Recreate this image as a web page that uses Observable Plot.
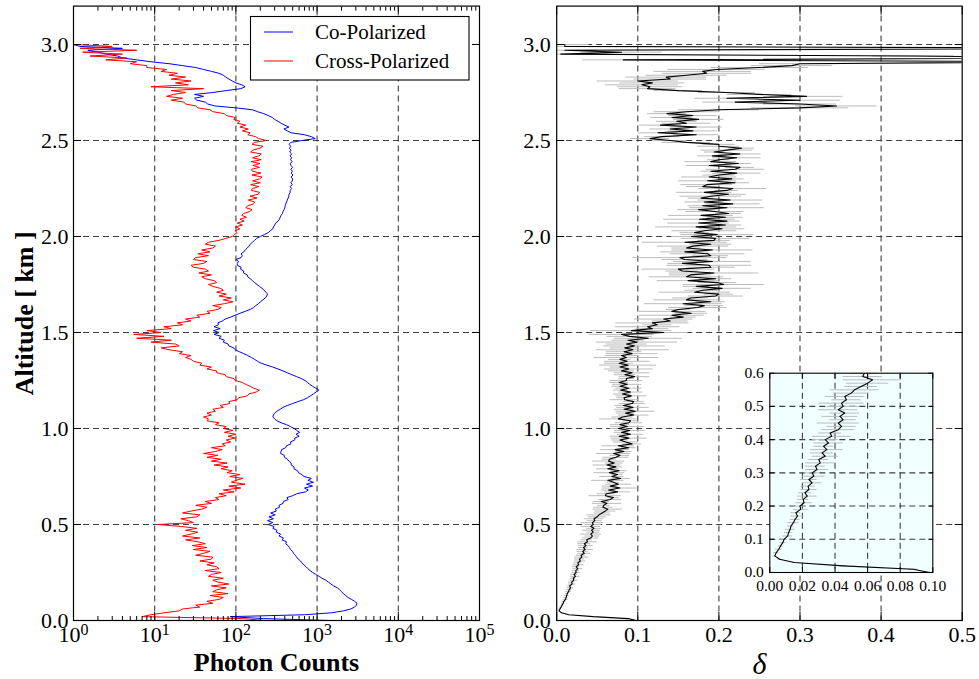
<!DOCTYPE html>
<html>
<head>
<meta charset="utf-8">
<script src="https://cdn.jsdelivr.net/npm/d3@7"></script>
<script src="https://cdn.jsdelivr.net/npm/@observablehq/plot@0.6"></script>
<style>
  body { margin: 0; background: #fff; }
  #fig { position: relative; width: 979px; height: 679px; overflow: hidden; background: #fff; }
  #fig svg { position: absolute; overflow: visible; }
</style>
</head>
<body>
<div id="fig"></div>
<script>
// Lidar profile, range bins every 10 m from the ground up to 3.0 km
const binKm = 0.01;

// Co-polarized photon counts per bin
const coCounts = [
  1400, 220, 85, 700, 1500, 2100, 2600, 2900, 3050, 3100,      // 0.0
  2900, 2650, 2400, 2250, 2100, 2000, 1900, 1780, 1600, 1480,  // 0.1
  1380, 1280, 1150, 1060, 960, 880, 820, 770, 730, 690,        // 0.2
  650, 625, 585, 560, 540, 510, 500, 470, 455, 440,            // 0.3
  410, 420, 370, 385, 340, 355, 315, 320, 285, 295,            // 0.4
  250, 285, 245, 290, 255, 305, 268, 315, 305, 345,            // 0.5
  340, 380, 385, 440, 425, 500, 560, 720, 780, 700,            // 0.6
  880, 740, 900, 770, 850, 690, 650, 590, 575, 520,            // 0.7
  520, 480, 480, 450, 430, 395, 395, 355, 360, 365,            // 0.8
  410, 420, 475, 470, 530, 530, 600, 550, 610, 560,            // 0.9
  520, 470, 420, 360, 320, 300, 285, 290, 300, 320,            // 1.0
  350, 380, 430, 500, 580, 680, 760, 830, 900, 970,            // 1.1
  1050, 960, 880, 810, 760, 710, 640, 560, 490, 430,           // 1.2
  380, 330, 285, 240, 205, 185, 170, 155, 140, 125,            // 1.3
  110, 98, 94, 82, 80, 70, 72, 62, 66, 54,                     // 1.4
  62, 53, 64, 54, 61, 60, 68, 74, 86, 98,                      // 1.5
  112, 130, 150, 165, 175, 190, 200, 215, 230, 240,            // 1.6
  245, 235, 222, 210, 195, 182, 170, 160, 150, 140,            // 1.7
  138, 124, 125, 114, 116, 104, 104, 108, 100, 116,            // 1.8
  120, 116, 125, 130, 138, 145, 150, 160, 170, 180,            // 1.9
  200, 225, 250, 265, 285, 290, 300, 310, 330, 345,            // 2.0
  350, 360, 375, 380, 392, 400, 405, 412, 420, 430,            // 2.1
  440, 448, 452, 466, 466, 486, 466, 496, 476, 496,            // 2.2
  500, 476, 506, 480, 496, 476, 500, 476, 466, 494,            // 2.3
  470, 486, 464, 486, 460, 476, 456, 476, 450, 474,            // 2.4
  650, 950, 850, 700, 480, 430, 390, 450, 400, 360,            // 2.5
  330, 300, 280, 250, 220, 185, 160, 100, 55, 45,              // 2.6
  42, 33, 31, 40, 31, 52, 76, 115, 130, 118,                   // 2.7
  100, 90, 82, 75, 70, 62, 50, 40, 32, 22,                     // 2.8
  15, 9, 6, 4, 3.5, 2.5, 2, 1.5, 4, 1.2,                       // 2.9
  1                                                            // 3.0
];

// Cross-polarized photon counts per bin
const crossCounts = [
  230, 120, 7, 9, 13, 20, 22, 36, 32, 52,            // 0.0
  44, 62, 70, 48, 80, 52, 58, 76, 50, 82,            // 0.1
  60, 52, 70, 46, 50, 66, 42, 62, 58, 44,            // 0.2
  54, 36, 50, 52, 32, 40, 48, 30, 44, 29,            // 0.3
  42, 34, 24, 36, 22, 28, 34, 24, 33, 21,            // 0.4
  11, 30, 26, 21, 33, 36, 22, 28, 38, 44,            // 0.5
  32, 50, 42, 62, 56, 76, 62, 95, 70, 115,           // 0.6
  82, 130, 88, 100, 122, 84, 112, 78, 90, 66,        // 0.7
  80, 54, 78, 50, 66, 44, 60, 40, 56, 68,            // 0.8
  50, 74, 68, 86, 76, 98, 80, 100, 72, 92,           // 0.9
  70, 76, 56, 62, 44, 46, 40, 50, 44, 56,            // 1.0
  52, 70, 64, 84, 82, 104, 108, 138, 145, 178,       // 1.1
  195, 165, 150, 132, 120, 98, 95, 76, 74, 58,       // 1.2
  58, 44, 50, 36, 38, 30, 28, 24, 28, 20,            // 1.3
  22, 15, 12, 20, 18, 9, 16, 6, 13, 5.5,             // 1.4
  12, 8, 16, 13, 22, 19, 28, 24, 36, 33,             // 1.5
  48, 44, 60, 66, 52, 72, 92, 70, 88, 62,            // 1.6
  76, 58, 70, 64, 52, 46, 58, 54, 42, 38,            // 1.7
  50, 35, 46, 42, 30, 28, 40, 44, 30, 32,            // 1.8
  46, 34, 48, 38, 52, 56, 42, 46, 62, 75,            // 1.9
  90, 95, 104, 98, 112, 100, 120, 104, 126, 112,     // 2.0
  135, 118, 124, 148, 158, 132, 140, 165, 170, 142,  // 2.1
  182, 150, 188, 196, 155, 160, 192, 152, 200, 160,  // 2.2
  196, 210, 158, 204, 160, 155, 195, 162, 198, 154,  // 2.3
  205, 160, 192, 206, 152, 162, 198, 215, 158, 170,  // 2.4
  235, 190, 175, 140, 150, 120, 142, 112, 132, 104,  // 2.5
  112, 94, 98, 76, 72, 52, 48, 34, 32, 24,           // 2.6
  23, 16, 22, 14, 17, 24, 16, 40, 9, 26,             // 2.7
  18, 28, 16, 24, 15, 19, 12, 14, 8, 8,              // 2.8
  5, 6, 2.5, 4.5, 1.6, 4, 1.3, 6, 1.2, 3,            // 2.9
  1                                                  // 3.0
];

// Volume depolarization ratio per bin
const delta = [
  0.098, 0.088, 0.045, 0.015, 0.006, 0.003, 0.004, 0.0055, 0.0066, 0.008,   // 0.0
  0.0088, 0.011, 0.0115, 0.0125, 0.013, 0.0145, 0.0155, 0.017, 0.016, 0.019, // 0.1
  0.0185, 0.021, 0.0205, 0.023, 0.0215, 0.024, 0.0235, 0.026, 0.024, 0.027,  // 0.2
  0.026, 0.029, 0.028, 0.031, 0.030, 0.034, 0.032, 0.035, 0.033, 0.036,      // 0.3
  0.034, 0.038, 0.037, 0.042, 0.044, 0.042, 0.045, 0.043, 0.046, 0.042,      // 0.4
  0.045, 0.044, 0.047, 0.046, 0.050, 0.052, 0.056, 0.060, 0.063, 0.057,      // 0.5
  0.058, 0.062, 0.055, 0.066, 0.070, 0.060, 0.061, 0.075, 0.064, 0.078,      // 0.6
  0.066, 0.076, 0.070, 0.063, 0.079, 0.068, 0.075, 0.065, 0.077, 0.063,      // 0.7
  0.073, 0.062, 0.071, 0.064, 0.065, 0.073, 0.078, 0.070, 0.083, 0.072,      // 0.8
  0.089, 0.076, 0.093, 0.085, 0.078, 0.089, 0.077, 0.091, 0.080, 0.090,      // 0.9
  0.076, 0.087, 0.078, 0.089, 0.091, 0.076, 0.081, 0.095, 0.085, 0.097,      // 1.0
  0.083, 0.094, 0.082, 0.093, 0.095, 0.084, 0.083, 0.092, 0.081, 0.091,      // 1.1
  0.079, 0.089, 0.078, 0.087, 0.077, 0.086, 0.086, 0.096, 0.084, 0.093,      // 1.2
  0.080, 0.089, 0.078, 0.088, 0.077, 0.087, 0.078, 0.086, 0.080, 0.093,      // 1.3
  0.083, 0.094, 0.084, 0.096, 0.086, 0.099, 0.088, 0.113, 0.090, 0.080,      // 1.4
  0.132, 0.092, 0.118, 0.112, 0.124, 0.118, 0.140, 0.132, 0.156, 0.142,      // 1.5
  0.166, 0.142, 0.150, 0.174, 0.182, 0.156, 0.190, 0.160, 0.165, 0.196,      // 1.6
  0.200, 0.170, 0.180, 0.204, 0.172, 0.206, 0.198, 0.162, 0.196, 0.160,      // 1.7
  0.165, 0.194, 0.155, 0.150, 0.190, 0.188, 0.155, 0.192, 0.158, 0.152,      // 1.8
  0.190, 0.186, 0.158, 0.192, 0.160, 0.168, 0.190, 0.158, 0.194, 0.196,      // 1.9
  0.166, 0.198, 0.170, 0.182, 0.204, 0.172, 0.208, 0.175, 0.210, 0.176,      // 2.0
  0.208, 0.178, 0.212, 0.195, 0.175, 0.210, 0.180, 0.217, 0.182, 0.214,      // 2.1
  0.178, 0.190, 0.212, 0.182, 0.210, 0.217, 0.180, 0.185, 0.220, 0.186,      // 2.2
  0.216, 0.188, 0.200, 0.222, 0.190, 0.220, 0.226, 0.188, 0.224, 0.190,      // 2.3
  0.200, 0.222, 0.192, 0.226, 0.194, 0.210, 0.228, 0.200, 0.200, 0.160,      // 2.4
  0.140, 0.115, 0.130, 0.172, 0.125, 0.168, 0.140, 0.172, 0.128, 0.160,      // 2.5
  0.148, 0.175, 0.142, 0.168, 0.136, 0.160, 0.200, 0.300, 0.345, 0.300,      // 2.6
  0.220, 0.300, 0.210, 0.308, 0.250, 0.210, 0.150, 0.112, 0.115, 0.105,      // 2.7
  0.118, 0.100, 0.140, 0.135, 0.160, 0.185, 0.180, 0.197, 0.250, 0.290,      // 2.8
  0.300, 0.650, 0.082, 0.700, 0.440, 0.005, 0.080, 0.010, 0.800, 0.010,      // 2.9
  0.010                                                                      // 3.0
];

// Uncertainty (half-width) of the depolarization ratio per bin
const deltaErr = [
  0.004, 0.003, 0.002, 0.001, 0.001, 0.001, 0.0015, 0.002, 0.0015, 0.002,   // 0.0
  0.002, 0.003, 0.0025, 0.003, 0.002, 0.0035, 0.003, 0.004, 0.003, 0.0045,  // 0.1
  0.004, 0.005, 0.0035, 0.006, 0.004, 0.005, 0.0045, 0.006, 0.005, 0.007,   // 0.2
  0.005, 0.007, 0.006, 0.009, 0.006, 0.008, 0.007, 0.010, 0.006, 0.009,     // 0.3
  0.008, 0.012, 0.007, 0.010, 0.009, 0.013, 0.008, 0.011, 0.009, 0.012,     // 0.4
  0.010, 0.014, 0.009, 0.012, 0.011, 0.015, 0.010, 0.013, 0.018, 0.012,     // 0.5
  0.008, 0.018, 0.010, 0.014, 0.007, 0.020, 0.011, 0.016, 0.009, 0.022,     // 0.6
  0.010, 0.016, 0.008, 0.020, 0.012, 0.015, 0.007, 0.019, 0.010, 0.014,     // 0.7
  0.008, 0.017, 0.011, 0.020, 0.009, 0.016, 0.012, 0.021, 0.010, 0.018,     // 0.8
  0.009, 0.020, 0.012, 0.015, 0.010, 0.022, 0.011, 0.016, 0.009, 0.019,     // 0.9
  0.010, 0.021, 0.012, 0.017, 0.009, 0.023, 0.013, 0.019, 0.011, 0.024,     // 1.0
  0.012, 0.020, 0.010, 0.016, 0.013, 0.018, 0.009, 0.019, 0.011, 0.015,     // 1.1
  0.009, 0.016, 0.010, 0.018, 0.012, 0.020, 0.010, 0.019, 0.013, 0.022,     // 1.2
  0.016, 0.030, 0.012, 0.035, 0.018, 0.028, 0.014, 0.040, 0.020, 0.032,     // 1.3
  0.022, 0.045, 0.018, 0.038, 0.025, 0.050, 0.020, 0.042, 0.028, 0.040,     // 1.4
  0.030, 0.050, 0.020, 0.040, 0.018, 0.045, 0.022, 0.036, 0.016, 0.040,     // 1.5
  0.020, 0.042, 0.015, 0.036, 0.024, 0.048, 0.018, 0.040, 0.022, 0.034,     // 1.6
  0.018, 0.044, 0.022, 0.036, 0.016, 0.050, 0.024, 0.038, 0.020, 0.046,     // 1.7
  0.026, 0.055, 0.020, 0.045, 0.030, 0.052, 0.018, 0.048, 0.028, 0.058,     // 1.8
  0.022, 0.046, 0.030, 0.050, 0.018, 0.044, 0.026, 0.052, 0.020, 0.042,     // 1.9
  0.024, 0.045, 0.018, 0.040, 0.028, 0.050, 0.020, 0.038, 0.016, 0.044,     // 2.0
  0.022, 0.040, 0.016, 0.036, 0.026, 0.046, 0.018, 0.034, 0.024, 0.040,     // 2.1
  0.016, 0.038, 0.022, 0.034, 0.014, 0.042, 0.020, 0.032, 0.018, 0.036,     // 2.2
  0.015, 0.034, 0.020, 0.030, 0.012, 0.036, 0.018, 0.028, 0.016, 0.032,     // 2.3
  0.014, 0.030, 0.018, 0.026, 0.012, 0.032, 0.016, 0.026, 0.020, 0.030,     // 2.4
  0.020, 0.024, 0.022, 0.028, 0.024, 0.030, 0.025, 0.032, 0.026, 0.030,     // 2.5
  0.025, 0.031, 0.026, 0.030, 0.024, 0.040, 0.050, 0.060, 0.050, 0.045,     // 2.6
  0.040, 0.050, 0.040, 0.045, 0.040, 0.035, 0.030, 0.035, 0.040, 0.045,     // 2.7
  0.040, 0.050, 0.045, 0.050, 0.050, 0.055, 0.060, 0.060, 0.060, 0.050,     // 2.8
  0.050, 0.060, 0.050, 0.060, 0.050, 0.040, 0.050, 0.040, 0.050, 0.040,     // 2.9
  0.030                                                                     // 3.0
];

// Axis ticks
const countDecades = [1, 10, 100, 1000, 10000, 100000];
const altitudeTicks = [0, 0.5, 1.0, 1.5, 2.0, 2.5, 3.0];
const deltaTicks = [0, 0.1, 0.2, 0.3, 0.4, 0.5];
const insetDeltaTicks = [0, 0.02, 0.04, 0.06, 0.08, 0.10];
const insetAltTicks = [0, 0.1, 0.2, 0.3, 0.4, 0.5, 0.6];

const rows = coCounts.map((c, i) => ({
  alt: i * binKm, co: c, cross: crossCounts[i], delta: delta[i], err: deltaErr[i]
}));
const lowRows = rows.filter(d => d.alt <= 0.6005);

const FONT = "'Liberation Serif', 'Times New Roman', serif";
const grid = {stroke: "#2a2a2a", strokeOpacity: 0.9, strokeWidth: 1.1, strokeDasharray: "6,4"};
const minorCounts = d3.scaleLog().domain([1, 1e5]).ticks().filter(v => !countDecades.includes(v));
const blank = () => "";
const errStroke = "#bcbcbc";

// Inward ticks on the top and right sides of a frame
function frameTicks(xt, yt, size) {
  return [
    Plot.axisX(xt, {anchor: "top", tickSize: -size, tickFormat: blank, label: null}),
    Plot.axisY(yt, {anchor: "right", tickSize: -size, tickFormat: blank, label: null})
  ];
}

const fig = document.getElementById("fig");

// ---- Left panel: photon counts ----
const left = Plot.plot({
  width: 500, height: 679,
  marginLeft: 73, marginRight: 21, marginTop: 5.6, marginBottom: 59,
  x: {type: "log", domain: [1, 1e5], label: null},
  y: {domain: [0, 3.2], label: null},
  style: {background: "transparent", fontFamily: FONT, fontSize: "22px", color: "black"},
  marks: [
    Plot.gridX(countDecades.slice(1, -1), grid),
    Plot.gridY(altitudeTicks.slice(1), grid),
    Plot.line(rows, {x: "co", y: "alt", stroke: "#0000ff", strokeWidth: 1}),
    Plot.line(rows, {x: "cross", y: "alt", stroke: "#ff0000", strokeWidth: 1}),
    Plot.frame({stroke: "black", strokeWidth: 1.2}),
    Plot.axisX(countDecades, {anchor: "bottom", tickSize: -8, tickPadding: 14, fontSize: 22,
      tickFormat: d => "10^" + Math.round(Math.log10(d)), label: null}),
    Plot.axisX(minorCounts, {anchor: "bottom", tickSize: -4, tickFormat: blank, label: null}),
    Plot.axisX(minorCounts, {anchor: "top", tickSize: -4, tickFormat: blank, label: null}),
    Plot.axisY(altitudeTicks, {anchor: "left", tickSize: -8, tickPadding: 13, fontSize: 22,
      tickFormat: d3.format(".1f"), label: null}),
    ...frameTicks(countDecades, altitudeTicks, 8),
    Plot.text(["Photon Counts"], {text: d => d, frameAnchor: "bottom", dy: 42.4,
      textAnchor: "middle", lineAnchor: "middle", fontWeight: "bold", fontSize: 26}),
    Plot.text(["Altitude [ km ]"], {text: d => d, frameAnchor: "left", rotate: -90, dx: -48.5,
      textAnchor: "middle", lineAnchor: "middle", fontWeight: "bold", fontSize: 26})
  ]
});
left.style.left = "0px"; left.style.top = "0px";
// powers of ten as base with raised exponent
d3.select(left).selectAll('g[aria-label="x-axis tick label"] text').each(function () {
  const m = /^10\^(\d+)$/.exec(this.textContent);
  if (!m) return;
  const t = d3.select(this);
  t.text(null);
  t.append("tspan").text("10");
  t.append("tspan").attr("dy", -7).attr("font-size", 16).text(m[1]);
});
fig.appendChild(left);

// ---- Right panel: depolarization ratio ----
const right = Plot.plot({
  width: 489, height: 679,
  marginLeft: 66.2, marginRight: 17.3, marginTop: 5.6, marginBottom: 59,
  x: {domain: [0, 0.5], label: null},
  y: {domain: [0, 3.2], label: null},
  style: {background: "transparent", fontFamily: FONT, fontSize: "22px", color: "black"},
  marks: [
    Plot.gridX(deltaTicks.slice(1, -1), grid),
    Plot.gridY(altitudeTicks.slice(1), grid),
    Plot.ruleY(rows, {y: "alt", x1: d => d.delta - d.err, x2: d => d.delta + d.err,
      stroke: errStroke, strokeWidth: 1, clip: true}),
    Plot.line(rows, {x: "delta", y: "alt", stroke: "black", strokeWidth: 1.1, clip: true}),
    Plot.frame({stroke: "black", strokeWidth: 1.2}),
    Plot.axisX(deltaTicks, {anchor: "bottom", tickSize: -8, tickPadding: 14, fontSize: 22,
      tickFormat: d3.format(".1f"), label: null}),
    Plot.axisY(altitudeTicks, {anchor: "left", tickSize: -8, tickPadding: 14, fontSize: 22,
      tickFormat: d3.format(".1f"), label: null}),
    ...frameTicks(deltaTicks, altitudeTicks, 8),
    Plot.text(["δ"], {text: d => d, frameAnchor: "bottom", dy: 44, textAnchor: "middle",
      lineAnchor: "middle", fontStyle: "italic", fontSize: 30})
  ]
});
right.style.left = "490px"; right.style.top = "0px";
fig.appendChild(right);

// ---- Inset: lowest 600 m of the depolarization ratio ----
const inset = Plot.plot({
  width: 215, height: 240,
  marginLeft: 39.3, marginRight: 12.7, marginTop: 17.7, marginBottom: 23,
  x: {domain: [0, 0.1], label: null},
  y: {domain: [0, 0.6], label: null},
  style: {background: "transparent", fontFamily: FONT, fontSize: "15.5px", color: "black"},
  marks: [
    Plot.frame({fill: "#f0ffff", stroke: "none"}),
    Plot.gridX(insetDeltaTicks.slice(1, -1), grid),
    Plot.gridY(insetAltTicks.slice(1, -1), grid),
    Plot.ruleY(lowRows, {y: "alt", x1: d => d.delta - d.err, x2: d => d.delta + d.err,
      stroke: errStroke, strokeWidth: 1, clip: true}),
    Plot.line(lowRows, {x: "delta", y: "alt", stroke: "black", strokeWidth: 1.1, clip: true}),
    Plot.frame({stroke: "black", strokeWidth: 1.1}),
    Plot.axisX(insetDeltaTicks, {anchor: "bottom", tickSize: -5, tickPadding: 12, fontSize: 15.5,
      tickFormat: d3.format(".2f"), label: null}),
    Plot.axisY(insetAltTicks, {anchor: "left", tickSize: -5, tickPadding: 11, fontSize: 15.5,
      tickFormat: d3.format(".1f"), label: null}),
    ...frameTicks(insetDeltaTicks, insetAltTicks, 5)
  ]
});
inset.style.left = "730px"; inset.style.top = "355px";
fig.appendChild(inset);

// ---- Legend of the photon count panel ----
const legendItems = [
  {label: "Co-Polarized", color: "#0000ff"},
  {label: "Cross-Polarized", color: "#ff0000"}
];
const lg = d3.select(fig).append("svg")
  .attr("width", 979).attr("height", 679)
  .style("left", "0px").style("top", "0px").style("pointer-events", "none");
lg.append("rect").attr("x", 250.5).attr("y", 16.5).attr("width", 218.5).attr("height", 63.5)
  .attr("fill", "white").attr("stroke", "black").attr("stroke-width", 1.1);
legendItems.forEach((item, i) => {
  const y = 32 + i * 29;
  lg.append("line").attr("x1", 264).attr("x2", 293).attr("y1", y).attr("y2", y)
    .attr("stroke", item.color).attr("stroke-width", 1);
  lg.append("text").attr("x", 315).attr("y", y + 7.3)
    .attr("font-family", FONT).attr("font-size", 21).attr("fill", "black").text(item.label);
});
</script>
</body>
</html>
